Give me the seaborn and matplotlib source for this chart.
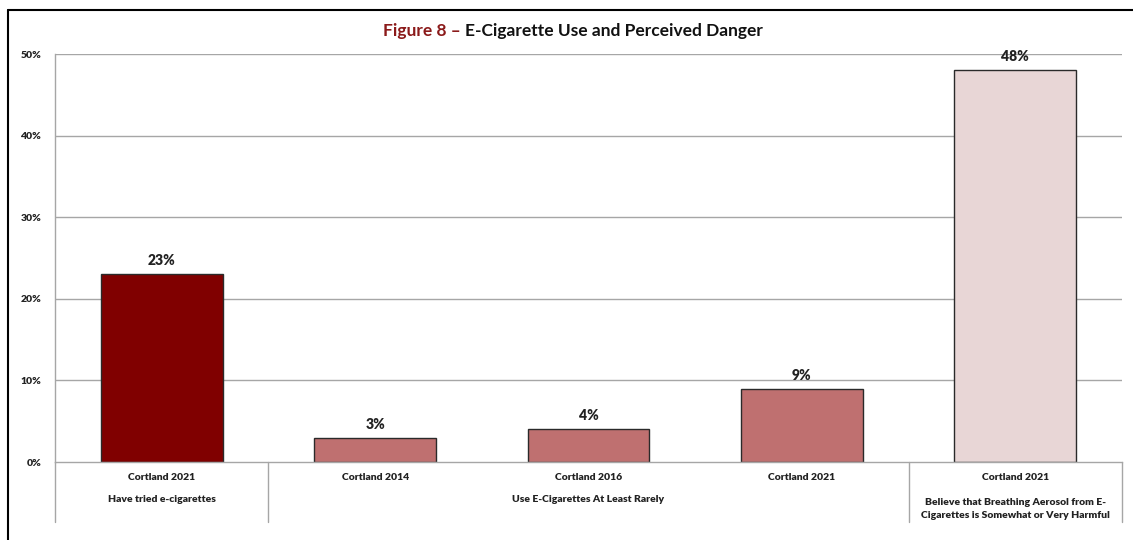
import matplotlib
matplotlib.use("Agg")
import matplotlib.pyplot as plt
import seaborn as sns
import pandas as pd
from matplotlib.lines import Line2D
from matplotlib.transforms import blended_transform_factory

# ---- data ----
years = ["Cortland 2021", "Cortland 2014", "Cortland 2016", "Cortland 2021", "Cortland 2021"]
values = [23, 3, 4, 9, 48]
value_labels = ["23%", "3%", "4%", "9%", "48%"]
groups = ["Have tried e-cigarettes",
          "Use E-Cigarettes At Least Rarely",
          "Believe that Breathing Aerosol from E-\nCigarettes is Somewhat or Very Harmful"]
group_spans = [(0, 0), (1, 3), (4, 4)]
bar_colors = ["#800000", "#BF7070", "#BF7070", "#BF7070", "#E8D6D6"]
yticks = [0, 10, 20, 30, 40, 50]
ytick_labels = ["0%", "10%", "20%", "30%", "40%", "50%"]

sns.set_theme(style="white")
plt.rcParams["font.family"] = ["Lato", "DejaVu Sans"]

W, H = 1133, 540
fig = plt.figure(figsize=(W / 100, H / 100), dpi=100)
ax = fig.add_axes([55 / W, 1 - 462 / H, (1122 - 55) / W, (462 - 54) / H])

df = pd.DataFrame({"pos": [f"b{i}" for i in range(len(values))], "val": values})
sns.barplot(data=df, x="pos", y="val", hue="pos", palette=bar_colors, legend=False,
            width=0.57, edgecolor="#2a2a2a", linewidth=1.0, saturation=1, ax=ax)

ax.set_ylim(0, 50)
ax.set_xlim(-0.5, len(values) - 0.5)
ax.set_yticks(yticks)
ax.set_yticklabels(ytick_labels, fontsize=7.5, fontweight="heavy", color="#222222")
ax.tick_params(axis="y", length=0, pad=10)
ax.set_xticks([])
ax.set_xlabel("")
ax.set_ylabel("")
for y in yticks[1:]:
    ax.axhline(y, color="#A6A6A6", linewidth=1.0, zorder=0)
for s in ["top", "right"]:
    ax.spines[s].set_visible(False)
ax.spines["left"].set_color("#A6A6A6")
ax.spines["bottom"].set_color("#A6A6A6")
ax.spines["left"].set_linewidth(1.0)
ax.spines["bottom"].set_linewidth(1.0)

# value labels
for i, (v, lab) in enumerate(zip(values, value_labels)):
    ax.annotate(lab, (i, v), xytext=(0, 5), textcoords="offset points",
                ha="center", va="bottom", fontsize=10, fontweight="heavy", color="#222222")

# category labels
tr = blended_transform_factory(ax.transData, ax.transAxes)
px = 1 / (462 - 54)
for i, yr in enumerate(years):
    ax.text(i, -16 * px, yr, transform=tr, ha="center", va="center",
            fontsize=7.5, fontweight="heavy", color="#222222")
for (a, b), g in zip(group_spans, groups):
    ax.text((a + b) / 2, -(38 if "\n" not in g else 47) * px, g, transform=tr,
            ha="center", va="center", fontsize=7.5, fontweight="heavy",
            color="#222222", linespacing=1.6)
# separators
for xs in [-0.5, 0.5, 3.5, 4.5]:
    ax.plot([xs, xs], [0, -60 * px], transform=tr, color="#A6A6A6",
            linewidth=1.0, clip_on=False)

# title
fig.text(461 / W, 1 - 31 / H, "Figure 8 \u2013", ha="right", va="center",
         fontsize=12.5, fontweight="bold", color="#8B1A1A")
fig.text(465 / W, 1 - 31 / H, "E-Cigarette Use and Perceived Danger", ha="left",
         va="center", fontsize=12.5, fontweight="bold", color="#111111")

# outer frame (top and left only)
fig.add_artist(Line2D([8 / W, 8 / W], [0, 1 - 10 / H], transform=fig.transFigure,
                      color="#000000", linewidth=1.5))
fig.add_artist(Line2D([8 / W, 1], [1 - 10 / H, 1 - 10 / H], transform=fig.transFigure,
                      color="#000000", linewidth=1.5))

fig.savefig("out.png", dpi=100, facecolor="white")
